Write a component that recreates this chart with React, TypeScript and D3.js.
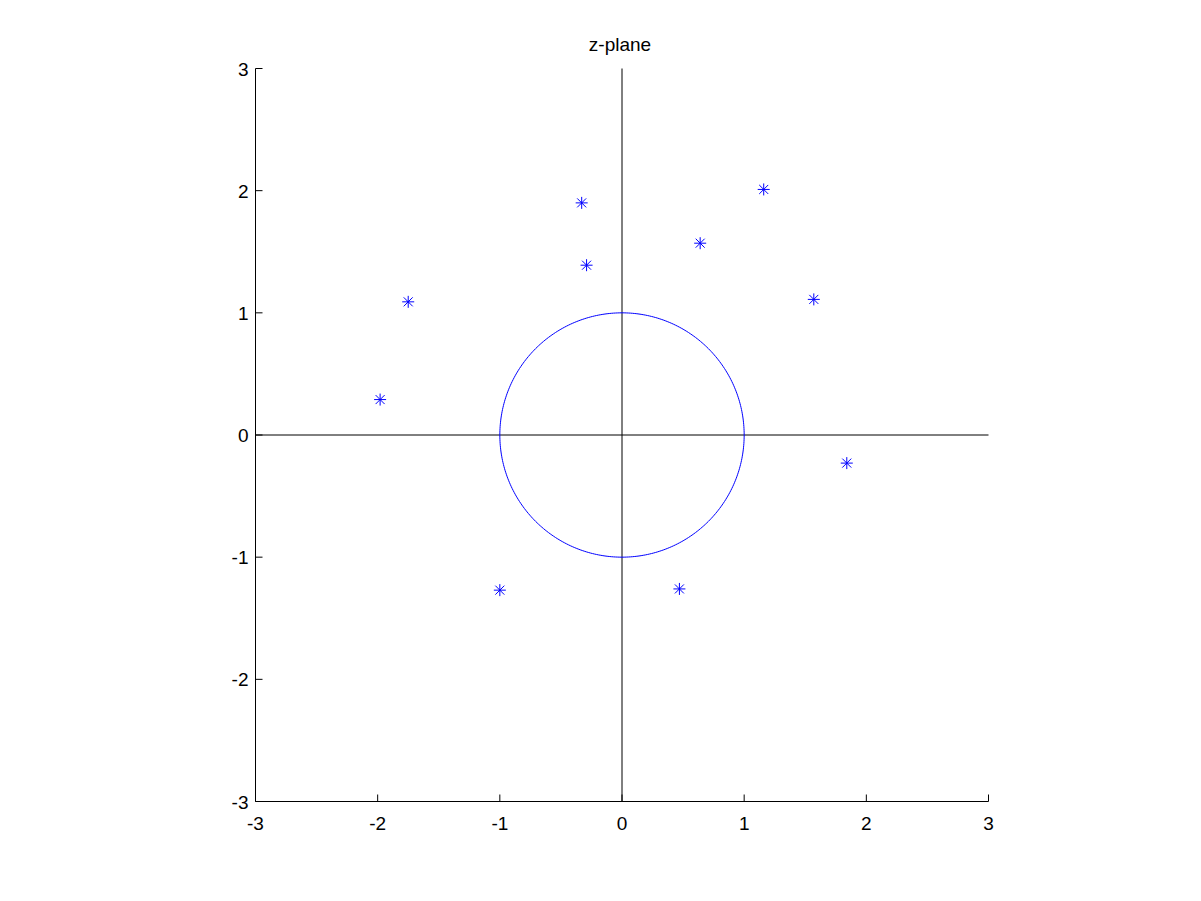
import React from "react";
import * as d3 from "d3";

const poleRe = [-1.98, -1.75, -0.33, -0.29, 0.64, 1.16, 1.57, 1.84, 0.47, -1.0];
const poleIm = [0.29, 1.09, 1.9, 1.39, 1.57, 2.01, 1.11, -0.23, -1.26, -1.27];
const ticks = [-3, -2, -1, 0, 1, 2, 3];
const title = "z-plane";

export default function App() {
  const W = 1201, H = 901;
  const x = d3.scaleLinear().domain([-3, 3]).range([255.5, 988.5]);
  const y = d3.scaleLinear().domain([-3, 3]).range([801.5, 68.5]);
  const circ = d3.range(0, 361).map((a) => [Math.cos((a * Math.PI) / 180), Math.sin((a * Math.PI) / 180)]);
  const line = d3.line<number[]>().x((d) => x(d[0])).y((d) => y(d[1]));
  const blue = "#0000ff";
  const font = "'Liberation Sans', Arial, sans-serif";
  return (
    <svg width={W} height={H} style={{ position: "absolute", left: 0, top: 0, background: "#fff" }}>
      <rect width={W} height={H} fill="#fff" />
      <text x={x(0) - 2} y={51} textAnchor="middle" fontFamily={font} fontSize={19}>{title}</text>
      {/* axes */}
      <line x1={x(-3)} x2={x(-3)} y1={y(-3)} y2={y(3)} stroke="#000" />
      <line x1={x(-3)} x2={x(3)} y1={y(-3)} y2={y(-3)} stroke="#000" />
      {ticks.map((t) => (
        <g key={"x" + t}>
          <line x1={x(t)} x2={x(t)} y1={y(-3)} y2={y(-3) - 7} stroke="#000" />
          <text x={x(t)} y={y(-3) + 28} textAnchor="middle" fontFamily={font} fontSize={19}>{t}</text>
        </g>
      ))}
      {ticks.map((t) => (
        <g key={"y" + t}>
          <line x1={x(-3)} x2={x(-3) + 7} y1={y(t)} y2={y(t)} stroke="#000" />
          <text x={x(-3) - 7} y={y(t) + 7} textAnchor="end" fontFamily={font} fontSize={19}>{t}</text>
        </g>
      ))}
      {/* zero lines */}
      <line x1={x(0)} x2={x(0)} y1={y(-3)} y2={y(3)} stroke="#000" />
      <line x1={x(-3)} x2={x(3)} y1={y(0)} y2={y(0)} stroke="#000" />
      {/* unit circle */}
      <path d={line(circ) || ""} fill="none" stroke={blue} />
      {/* poles as asterisks */}
      {poleRe.map((re, i) => {
        const cx = x(re), cy = y(poleIm[i]);
        const r = 6, q = 4.5;
        return (
          <g key={i} stroke={blue} strokeWidth={1}>
            <line x1={cx - r} x2={cx + r} y1={cy} y2={cy} />
            <line x1={cx} x2={cx} y1={cy - r} y2={cy + r} />
            <line x1={cx - q} x2={cx + q} y1={cy - q} y2={cy + q} />
            <line x1={cx - q} x2={cx + q} y1={cy + q} y2={cy - q} />
          </g>
        );
      })}
    </svg>
  );
}
